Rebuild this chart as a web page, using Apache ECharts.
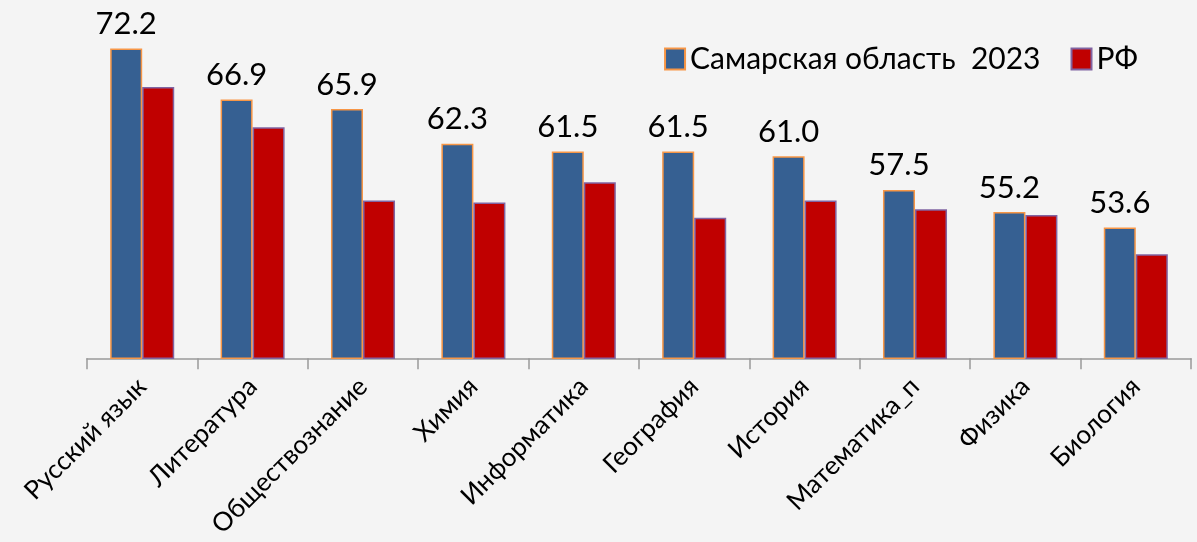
<!DOCTYPE html>
<html>
<head>
<meta charset="utf-8">
<script src="https://cdn.jsdelivr.net/npm/echarts@6/dist/echarts.min.js"></script>
<style>
    html, body { margin: 0; padding: 0; background: #f4f4f4; }
    #chart { width: 1197px; height: 542px; }
</style>
</head>
<body>
<div id="chart"></div>
<script>
var subjects = ['Русский язык', 'Литература', 'Обществознание', 'Химия', 'Информатика',
    'География', 'История', 'Математика_п', 'Физика', 'Биология'];
var samaraValues = [72.2, 66.9, 65.9, 62.3, 61.5, 61.5, 61.0, 57.5, 55.2, 53.6];
var rfValues = [68.2, 64.0, 56.4, 56.2, 58.3, 54.6, 56.4, 55.5, 54.9, 50.8];
var seriesNames = ['Самарская область  2023', 'РФ'];

var myChart = echarts.init(document.getElementById('chart'));
var option = {
    backgroundColor: '#f4f4f4',
    textStyle: {fontFamily: 'Lato'},
    animation: false,
    legend: {
        right: 54,
        top: 39,
        icon: 'rect',
        itemWidth: 20,
        itemHeight: 21,
        itemGap: 30,
        textStyle: {fontSize: 30, color: '#000', fontFamily: 'Lato'},
        data: seriesNames
    },
    grid: {
        left: 87,
        right: 6,
        top: 21.5,
        bottom: 183.7
    },
    xAxis: {
        type: 'category',
        data: subjects,
        axisLine: {lineStyle: {color: '#999', width: 1.5}},
        axisTick: {show: true, length: 11, lineStyle: {color: '#999', width: 1.5}},
        axisLabel: {
            interval: 0,
            rotate: 45,
            margin: 24,
            fontSize: 26,
            color: '#000',
            fontFamily: 'Lato'
        }
    },
    yAxis: {
        type: 'value',
        min: 40,
        max: 75,
        show: false
    },
    series: [
        {
            name: seriesNames[0],
            type: 'bar',
            data: samaraValues,
            barGap: 0,
            barCategoryGap: '42%',
            itemStyle: {color: '#366092', borderColor: '#f79646', borderWidth: 1.5},
            label: {
                show: true,
                position: 'top',
                distance: 9,
                fontSize: 31,
                color: '#000',
                fontFamily: 'Lato',
                formatter: function (p) {
                    return p.value.toFixed(1);
                }
            }
        },
        {
            name: seriesNames[1],
            type: 'bar',
            data: rfValues,
            itemStyle: {color: '#c00000', borderColor: '#8064a2', borderWidth: 1.5}
        }
    ]
};
myChart.setOption(option);
</script>
</body>
</html>
